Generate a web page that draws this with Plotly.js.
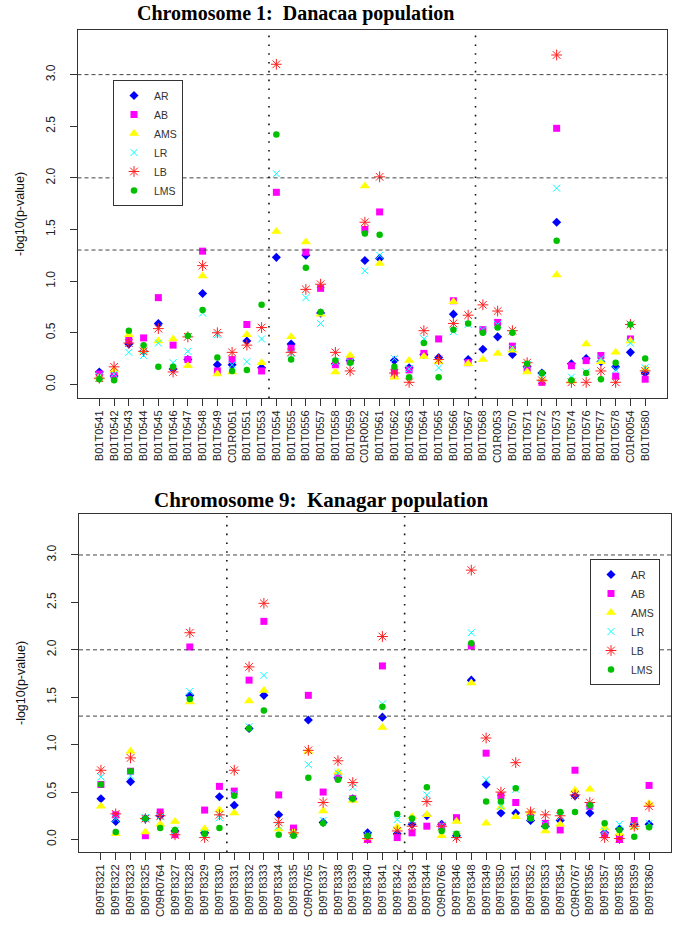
<!DOCTYPE html>
<html>
<head>
<meta charset="utf-8">
<script src="https://cdn.plot.ly/plotly-3.0.1.min.js"></script>
<style>html,body{margin:0;padding:0;background:#fff;}#chart{width:685px;height:935px;}</style>
</head>
<body>
<div id="chart"></div>
<script>
// ---------- Data: Chromosome 1, Danacaa population ----------
const topMarkers = ["B01T0541","B01T0542","B01T0543","B01T0544","B01T0545","B01T0546","B01T0547","B01T0548","B01T0549","C01R0051",
  "B01T0551","B01T0553","B01T0554","B01T0555","B01T0556","B01T0557","B01T0558","B01T0559","C01R0052","B01T0561",
  "B01T0562","B01T0563","B01T0564","B01T0565","B01T0566","B01T0567","B01T0568","C01R0053","B01T0570","B01T0571",
  "B01T0572","B01T0573","B01T0574","B01T0576","B01T0577","B01T0578","C01R0054","B01T0580"];
const topAR  = [0.12,0.08,0.39,0.32,0.59,0.15,0.24,0.88,0.19,0.19,0.42,0.16,1.23,0.39,1.25,0.69,0.20,0.23,1.20,1.22,0.23,0.16,0.29,0.26,0.68,0.24,0.34,0.46,0.29,0.17,0.11,1.57,0.20,0.25,0.22,0.17,0.31,0.11];
const topAB  = [0.10,0.09,0.43,0.45,0.84,0.38,0.24,1.29,0.13,0.24,0.58,0.13,1.86,0.35,1.28,0.93,0.19,0.23,1.50,1.67,0.12,0.14,0.30,0.44,0.81,0.21,0.53,0.60,0.37,0.15,0.02,2.48,0.18,0.23,0.28,0.08,0.44,0.05];
const topAMS = [0.07,0.14,0.48,0.32,0.42,0.44,0.18,1.05,0.10,0.12,0.48,0.21,1.48,0.46,1.38,0.68,0.12,0.28,1.92,1.17,0.07,0.23,0.27,0.22,0.80,0.20,0.24,0.30,0.33,0.12,0.05,1.06,0.03,0.39,0.22,0.31,0.42,0.15];
const topLR  = [0.08,0.10,0.31,0.28,0.40,0.21,0.32,0.69,0.48,0.19,0.22,0.44,2.04,0.30,0.84,0.59,0.22,0.22,1.10,1.25,0.25,0.15,0.44,0.16,0.51,0.58,0.53,0.58,0.35,0.19,0.06,1.90,0.07,0.12,0.25,0.14,0.40,0.16];
const topLB  = [0.06,0.17,0.40,0.32,0.54,0.12,0.46,1.15,0.50,0.31,0.38,0.55,3.10,0.31,0.92,0.97,0.31,0.13,1.57,2.01,0.11,0.02,0.52,0.24,0.59,0.67,0.77,0.71,0.52,0.21,0.04,3.19,0.02,0.02,0.13,0.02,0.58,0.13];
const topLMS = [0.05,0.04,0.52,0.38,0.17,0.17,0.47,0.72,0.26,0.13,0.14,0.77,2.42,0.24,1.13,0.70,0.23,0.21,1.46,1.45,0.17,0.07,0.40,0.07,0.53,0.59,0.50,0.55,0.50,0.20,0.11,1.39,0.04,0.11,0.05,0.21,0.58,0.25];
const topBreaks = [11.5, 25.5];

// ---------- Data: Chromosome 9, Kanagar population ----------
const botMarkers = ["B09T8321","B09T8322","B09T8323","B09T8325","C09R0764","B09T8327","B09T8328","B09T8329","B09T8330","B09T8331",
  "B09T8332","B09T8333","B09T8334","B09T8335","C09R0765","B09T8337","B09T8338","B09T8339","B09T8340","B09T8341",
  "B09T8342","B09T8343","B09T8344","C09R0766","B09T8346","B09T8348","B09T8349","B09T8350","B09T8351","B09T8352",
  "B09T8353","B09T8354","C09R0767","B09T8356","B09T8357","B09T8358","B09T8359","B09T8360"];
const botAR  = [0.43,0.19,0.61,0.22,0.25,0.09,1.52,0.07,0.45,0.36,1.17,1.52,0.26,0.06,1.26,0.18,0.65,0.43,0.07,1.29,0.06,0.16,0.25,0.16,0.04,1.68,0.58,0.28,0.28,0.20,0.14,0.20,0.46,0.28,0.07,0.11,0.16,0.16];
const botAB  = [0.58,0.26,0.72,0.04,0.29,0.05,2.03,0.31,0.56,0.51,1.68,2.30,0.47,0.12,1.52,0.50,0.66,0.43,0.00,1.83,0.02,0.07,0.14,0.14,0.23,2.04,0.91,0.46,0.39,0.25,0.17,0.10,0.73,0.35,0.05,0.00,0.20,0.57];
const botAMS = [0.35,0.06,0.93,0.08,0.16,0.19,1.45,0.11,0.31,0.28,1.46,1.57,0.11,0.08,0.93,0.30,0.71,0.41,0.02,1.18,0.13,0.24,0.26,0.04,0.19,1.65,0.17,0.34,0.24,0.29,0.09,0.16,0.52,0.53,0.12,0.06,0.13,0.38];
const botLR  = [0.66,0.22,0.67,0.23,0.24,0.09,1.56,0.07,0.23,0.48,1.19,1.73,0.14,0.06,0.79,0.20,0.70,0.55,0.05,1.43,0.21,0.20,0.47,0.15,0.05,2.18,0.63,0.35,0.53,0.23,0.16,0.24,0.47,0.36,0.09,0.16,0.15,0.17];
const botLB  = [0.73,0.27,0.86,0.22,0.25,0.05,2.18,0.02,0.26,0.73,1.82,2.49,0.18,0.07,0.94,0.39,0.83,0.60,0.01,2.14,0.09,0.14,0.40,0.14,0.02,2.84,1.07,0.50,0.81,0.29,0.26,0.25,0.47,0.39,0.02,0.01,0.14,0.35];
const botLMS = [0.58,0.08,0.72,0.22,0.12,0.10,1.48,0.06,0.12,0.46,1.17,1.36,0.05,0.04,0.65,0.17,0.63,0.43,0.04,1.40,0.27,0.22,0.55,0.09,0.06,2.07,0.40,0.40,0.54,0.22,0.14,0.29,0.29,0.36,0.17,0.10,0.03,0.13];
const botBreaks = [8.5, 20.5];

const thresholds = [3.0, 2.0, 1.301];
const seriesNames = ["AR","AB","AMS","LR","LB","LMS"];

// ---------- Styles ----------
const styles = {
  AR:  {symbol:"diamond", size:7, color:"#0000FF"},
  AB:  {symbol:"square", size:7, color:"#FF00FF"},
  AMS: {symbol:"triangle-up", size:9, color:"#FFFF00"},
  LR:  {symbol:"x-thin-open", size:7, color:"#00FFFF", line:{color:"#00FFFF", width:1}},
  LB:  {symbol:"asterisk-open", size:9, color:"#FF2020", line:{color:"#FF2020", width:1}},
  LMS: {symbol:"circle", size:6.5, color:"#00C000"}
};

function makeTraces(cats, arrs, xa, ya, legendId){
  return seriesNames.map((n,i)=>({
    type:"scatter", mode:"markers", name:n, x:cats, y:arrs[i],
    xaxis:xa, yaxis:ya, legend:legendId, cliponaxis:false,
    marker:Object.assign({}, styles[n], styles[n].line ? {} : {line:{width:0}})
  }));
}

const data = [].concat(
  makeTraces(topMarkers, [topAR,topAB,topAMS,topLR,topLB,topLMS], "x", "y", "legend"),
  makeTraces(botMarkers, [botAR,botAB,botAMS,botLR,botLB,botLMS], "x2", "y2", "legend2")
);

const W = 685, H = 935;
const tickFont = {family:"Liberation Sans, Arial, sans-serif", size:11, color:"#222"};
const yTickFont = {family:"Liberation Sans, Arial, sans-serif", size:12, color:"#222"};

function xAxis(cats, domain, anchor){
  return {
    type:"category", domain:domain, anchor:anchor,
    range:[-1.48, cats.length - 1 + 1.48],
    tickmode:"array", tickvals:cats, ticktext:cats,
    tickangle:-90, tickfont:tickFont,
    ticks:"outside", ticklen:7, tickcolor:"#333", tickwidth:1,
    showline:true, linecolor:"#333", linewidth:1, mirror:true,
    showgrid:false, zeroline:false, automargin:false
  };
}
function yAxis(domain, anchor){
  return {
    domain:domain, anchor:anchor, range:[-0.132, 3.432],
    tickmode:"array", tickvals:[0,0.5,1,1.5,2,2.5,3], ticktext:["0.0","0.5","1.0","1.5","2.0","2.5","3.0"],
    tickangle:-90, tickfont:yTickFont, ticklabelstandoff:10,
    ticks:"outside", ticklen:7, tickcolor:"#333", tickwidth:1,
    showline:true, linecolor:"#333", linewidth:1, mirror:true,
    showgrid:false, zeroline:false, automargin:false,
    title:{text:"-log10(p-value)", font:{family:"Liberation Sans, Arial, sans-serif", size:12.5, color:"#111"}, standoff:16}
  };
}

const shapes = [];
function addShapes(breaks, xa, ya){
  thresholds.forEach(t=>shapes.push({type:"line", xref:xa+" domain", yref:ya, x0:0, x1:1, y0:t, y1:t,
    line:{color:"#444", width:1, dash:"4px,3px"}}));
  breaks.forEach(b=>shapes.push({type:"line", xref:xa, yref:ya+" domain", x0:b, x1:b, y0:0, y1:1,
    line:{color:"#111", width:1.6, dash:"1.6px,7.2px"}}));
}
addShapes(topBreaks, "x", "y");
addShapes(botBreaks, "x2", "y2");

const legendStyle = {
  bgcolor:"#fff", bordercolor:"#333", borderwidth:1,
  font:{family:"Liberation Sans, Arial, sans-serif", size:10.5, color:"#333"},
  xanchor:"left", yanchor:"top", itemwidth:30, tracegroupgap:0
};

const layout = {
  width:W, height:H, margin:{l:0,r:0,t:0,b:0},
  paper_bgcolor:"#fff", plot_bgcolor:"#fff", showlegend:true,
  xaxis: xAxis(topMarkers, [77.5/W, 667/W], "y"),
  yaxis: yAxis([(H-398)/H, (H-30)/H], "x"),
  xaxis2: xAxis(botMarkers, [79/W, 671/W], "y2"),
  yaxis2: yAxis([(H-852)/H, (H-514)/H], "x2"),
  legend: Object.assign({x:113/W, y:(H-80)/H}, legendStyle),
  legend2: Object.assign({x:590/W, y:(H-559)/H}, legendStyle),
  shapes:shapes,
  annotations:[
    {text:"<b>Chromosome 1:  Danacaa population</b>", xref:"paper", yref:"paper", x:295/W, y:1-13/H,
     xanchor:"center", yanchor:"middle", showarrow:false,
     font:{family:"Liberation Serif, Times New Roman, serif", size:20, color:"#000"}},
    {text:"<b>Chromosome 9:  Kanagar population</b>", xref:"paper", yref:"paper", x:321/W, y:(H-500)/H,
     xanchor:"center", yanchor:"middle", showarrow:false,
     font:{family:"Liberation Serif, Times New Roman, serif", size:21, color:"#000"}}
  ]
};

Plotly.newPlot("chart", data, layout, {displayModeBar:false, staticPlot:true});
</script>
</body>
</html>
